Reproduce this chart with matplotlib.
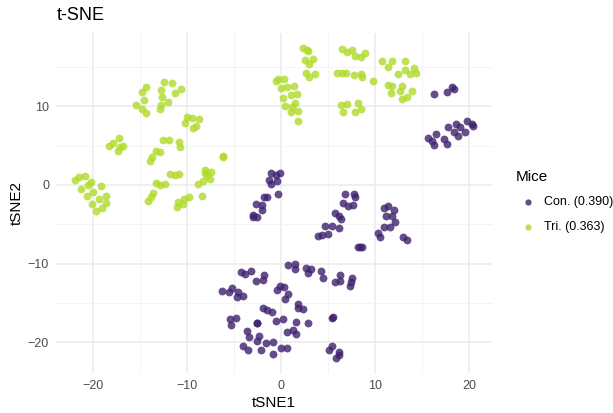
import numpy as np
import matplotlib.pyplot as plt
from matplotlib.lines import Line2D

plt.rcParams['font.family'] = ['Liberation Sans', 'DejaVu Sans']

# t-SNE embedding, triploid mice
tri_x = [-14.36, -14.79, -14.50, -15.39, -14.76, -14.29, -12.45, -11.56, -12.73, -10.61,
         -11.24, -12.59, -11.95, -12.73, -12.80, -9.93, -9.44, -8.69, -10.21, -8.97,
         -9.36, -17.20, -17.84, -18.27, -16.78, -17.05, -17.34, -12.48, -11.88, -10.85,
         -10.71, -13.27, -12.80, -13.69, -13.86, -6.14, -6.10, -21.84, -21.46, -20.78,
         -20.50, -20.14, -21.28, -19.93, -19.12, -20.56, -19.36, -18.54, -20.07, -18.59,
         -19.01, -19.61, -11.81, -11.28, -10.85, -13.22, -12.87, -12.31, -13.59, -13.83,
         -14.15, -10.93, -10.32, -9.76, -10.39, -11.03, -8.37, -8.01, -8.09, -7.37,
         -7.90, -7.55, -8.22, -8.80,
         2.31, 2.73, 2.87, 2.59, 3.37, 2.95, 2.66, 3.65, 3.01, -0.29,
         0.35, -0.53, -0.03, 0.61, 1.35, 0.18, 1.03, 1.73, 1.56, 0.43,
         1.14, 1.84, 1.03, 1.78, 6.49, 7.05, 7.55, 7.84, 8.54, 8.90,
         5.99, 6.49, 6.91, 7.77, 8.54, 8.62, 9.76, 6.41, 7.05, 8.19,
         6.56, 7.84, 8.48, 10.78, 11.78, 13.19, 11.38, 14.18, 13.22, 14.36,
         13.72, 12.41, 11.35, 11.81, 12.90, 11.73, 12.66, 13.97, 13.37, 12.87]
tri_y = [12.44, 11.80, 10.83, 10.19, 9.61, 9.18, 13.11, 12.94, 12.06, 12.22,
         11.64, 11.21, 10.53, 10.11, 9.61, 8.67, 8.50, 8.34, 7.87, 7.49,
         7.20, 5.96, 5.33, 4.99, 4.99, 4.78, 4.35, 5.75, 5.75, 5.42,
         4.78, 4.35, 4.19, 3.59, 3.08, 3.55, 3.62, 0.60, 1.02, 1.18,
         0.00, 0.34, -0.47, -0.85, -0.09, -1.40, -1.74, -1.36, -2.41, -2.25,
         -2.88, -3.30, 1.36, 1.23, 1.36, 0.22, 0.04, 0.16, -1.05, -1.56,
         -1.99, -2.16, -1.74, -1.56, -2.45, -2.75, -1.40, 1.94, 1.48, 1.61,
         1.27, 0.76, 0.51, 0.09,
         17.35, 17.13, 17.04, 15.86, 15.95, 15.32, 14.25, 14.12, 13.74, 13.49,
         13.41, 13.16, 12.27, 12.47, 12.56, 11.08, 11.38, 11.55, 10.44, 10.03,
         9.86, 9.35, 9.23, 8.16, 17.22, 16.84, 17.13, 16.37, 16.28, 16.71,
         14.17, 14.17, 14.17, 13.96, 14.05, 13.67, 13.20, 10.15, 10.32, 10.37,
         9.26, 9.30, 9.61, 15.74, 15.74, 15.74, 14.97, 14.81, 14.59, 14.21,
         14.05, 14.09, 12.73, 12.60, 12.60, 11.71, 11.97, 11.93, 11.21, 10.88]

# control mice
con_x = [16.24, 17.69, 18.16, 18.37, 15.61, 16.10, 16.46, 16.24, 17.31, 17.66,
         17.73, 18.65, 19.04, 19.76, 20.29, 20.39, 18.44, 18.80, 19.61,
         -1.03, -0.56, -0.07, -1.24, -0.39, -1.03, -0.29, -1.78, -1.52, -2.69,
         -1.95, -1.95, -2.95, -3.01, -2.52,
         6.81, 7.77, 7.90, 6.63, 7.13, 7.66, 5.71, 6.14, 6.41, 6.17,
         4.71, 5.46, 3.90, 4.39, 5.03, 8.22, 8.65, 8.40,
         10.93, 11.38, 12.02, 11.14, 11.81, 12.10, 10.96, 11.60, 10.32, 10.56,
         12.95, 13.37,
         -4.26, -3.76, -3.19, -2.66, -1.88, -1.78, -6.28, -5.50, -5.24, -4.54,
         -4.71, -4.01, 0.74, 1.49, 1.52, 2.63, 3.19, 2.84, 4.29, 4.44,
         6.24, 7.52, 5.78, 6.28, 7.45, 7.31, -0.11, 0.32, -0.43, 0.78,
         0.46, 1.84, 1.81, 2.41, -1.91, -1.46, -0.93, -5.35, -4.79, -5.32,
         -2.55, -2.50, -0.50, 0.24, 1.63, 2.90, 5.50, 5.45, -3.59, -3.37,
         -2.31, -2.52, 0.61, 1.31, 1.60, -1.60, -0.85, -2.16, -0.88, -4.07,
         -3.54, 0.07, 0.67, 5.07, 5.43, 6.20, 6.17, 5.88]
con_y = [11.59, 11.76, 12.44, 12.14, 5.93, 5.58, 6.47, 5.08, 5.84, 5.24,
         7.36, 7.70, 7.32, 8.16, 7.78, 7.49, 6.76, 6.22, 6.76,
         1.52, 1.27, 1.52, 0.67, 0.51, 0.16, -1.14, -1.56, -1.52, -2.37,
         -2.54, -3.17, -3.77, -4.06, -4.10,
         -1.14, -1.14, -1.56, -2.28, -2.66, -2.58, -3.55, -3.93, -4.35, -5.49,
         -5.16, -5.20, -6.43, -6.31, -6.26, -7.91, -7.91, -7.91,
         -2.92, -2.66, -3.17, -3.97, -3.97, -4.70, -5.29, -5.37, -6.09, -6.60,
         -6.64, -6.98,
         -11.13, -11.29, -10.95, -12.18, -12.06, -11.51, -13.54, -13.62, -13.07, -13.67,
         -14.30, -14.12, -10.19, -10.06, -10.66, -10.62, -10.70, -11.21, -11.00, -11.84,
         -11.46, -11.84, -12.40, -12.18, -12.35, -12.86, -12.82, -12.94, -13.36, -13.92,
         -14.50, -15.14, -15.65, -15.74, -15.65, -15.90, -16.15, -17.09, -16.88, -17.77,
         -17.55, -17.60, -17.26, -17.04, -17.47, -17.55, -16.79, -16.85, -18.62, -19.29,
         -19.20, -19.80, -18.65, -18.49, -18.91, -20.14, -20.01, -20.98, -21.45, -20.52,
         -20.98, -20.69, -20.72, -20.98, -20.52, -21.23, -21.66, -22.04]

groups = ['Con. (0.390)', 'Tri. (0.363)']
colors = ['#3F2170', '#B0DA2A']

fig = plt.figure(figsize=(6.13, 4.13), dpi=100)
ax = fig.add_axes([56 / 613, 40 / 413, 436 / 613, 340 / 413])

ax.scatter(con_x, con_y, s=32, color=colors[0], alpha=0.8, linewidths=0, zorder=3)
ax.scatter(tri_x, tri_y, s=32, color=colors[1], alpha=0.8, linewidths=0, zorder=3)

ax.set_xlim(-23.9, 22.45)
ax.set_ylim(-23.9, 19.3)
ax.set_xticks([-20, -10, 0, 10, 20])
ax.set_yticks([-20, -10, 0, 10])
ax.set_xticks([-15, -5, 5, 15], minor=True)
ax.set_yticks([-15, -5, 5, 15], minor=True)
ax.grid(True, which='major', color='#EBEBEB', linewidth=1.1, zorder=0)
ax.grid(True, which='minor', color='#F3F3F3', linewidth=0.6, zorder=0)
ax.set_axisbelow(True)
for sp in ax.spines.values():
    sp.set_visible(False)
ax.tick_params(which='both', length=0, labelsize=9, labelcolor='#4D4D4D', pad=5)

ax.set_xlabel('tSNE1', fontsize=11, labelpad=3)
ax.set_ylabel('tSNE2', fontsize=11, labelpad=3)
fig.text(57 / 613, 1 - 16 / 413, 't-SNE', fontsize=13, va='center', ha='left')

# legend drawn in figure coordinates, to the right of the panel
fig.text(516 / 613, 1 - 177 / 413, 'Mice', fontsize=11, va='center', ha='left')
for i, (lab, c) in enumerate(zip(groups, colors)):
    yy = 1 - (202 + 25 * i) / 413
    fig.add_artist(Line2D([528 / 613], [yy], marker='o', linestyle='', markersize=4.5,
                          color=c, alpha=0.8, markeredgewidth=0,
                          transform=fig.transFigure))
    fig.text(544 / 613, yy, lab, fontsize=9, va='center', ha='left')

fig.savefig('out.png', dpi=100)
